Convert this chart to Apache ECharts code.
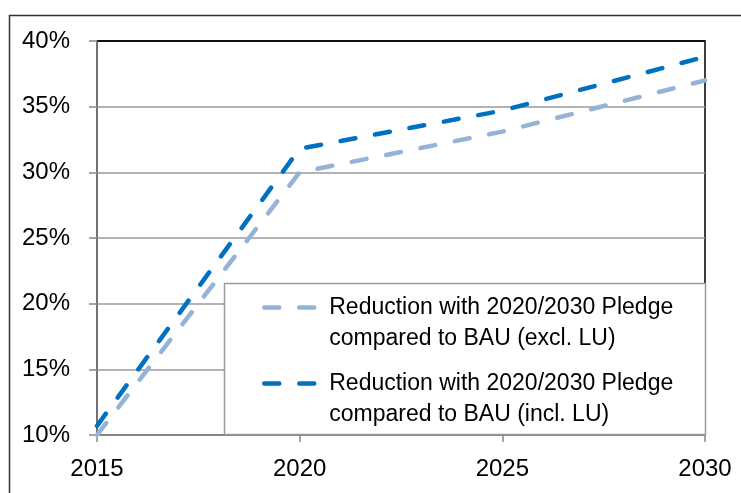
<!DOCTYPE html>
<html>
<head>
<meta charset="utf-8">
<script src="https://cdn.jsdelivr.net/npm/echarts@6/dist/echarts.min.js"></script>
<style>
html,body{margin:0;padding:0;background:#fff;}
#chart{width:741px;height:493px;}
</style>
</head>
<body>
<div id="chart"></div>
<script>
var years = [2015, 2020, 2025, 2030];
var excl = [10, 30, 33.1, 37];
var incl = [10.7, 31.8, 34.7, 38.8];
var seriesNames = [
  'Reduction with 2020/2030 Pledge\ncompared to BAU (excl. LU)',
  'Reduction with 2020/2030 Pledge\ncompared to BAU (incl. LU)'
];
var xTicks = [2015, 2020, 2025, 2030];
var yTicks = [10, 15, 20, 25, 30, 35, 40];

function pairs(xs, ys) { return xs.map(function (x, i) { return [x, ys[i]]; }); }

var font = 'Liberation Sans';
function legendFor(i, top) {
  return {
    orient: 'vertical', left: 262, top: top, padding: 0, z: 6,
    itemWidth: 60, itemHeight: 14,
    itemStyle: { color: 'transparent', borderWidth: 0, opacity: 0 },
    lineStyle: { width: 4.5, type: [15, 20], cap: 'round' },
    textStyle: { fontSize: 23, fontFamily: font, color: '#000', lineHeight: 31 },
    formatter: function (n) { return ' \n' + n; },
    data: [seriesNames[i]]
  };
}
var chart = echarts.init(document.getElementById('chart'));
chart.setOption({
  animation: false,
  backgroundColor: '#fff',
  textStyle: { fontFamily: font },
  grid: { left: 97, right: 36, top: 41, bottom: 58, show: true, borderColor: '#000', borderWidth: 1.5, backgroundColor: 'transparent' },
  graphic: [
    { type: 'rect', z: 0, silent: true, shape: { x: 9.5, y: 15.5, width: 1000, height: 1000 }, style: { fill: 'none', stroke: '#333', lineWidth: 1.5 } },
    { type: 'rect', z: 5, silent: true, shape: { x: 224.5, y: 283.5, width: 481, height: 151 }, style: { fill: '#fff', stroke: '#9a9a9a', lineWidth: 1.5 } }
  ],
  xAxis: {
    type: 'value', min: xTicks[0], max: xTicks[xTicks.length - 1], interval: 5,
    axisLine: { show: true, lineStyle: { color: '#868686', width: 1.5 } },
    axisTick: { show: true, length: 7, lineStyle: { color: '#868686', width: 1.5 } },
    axisLabel: { color: '#000', fontSize: 24, fontFamily: font, margin: 22, formatter: function (v) { return String(v); } },
    splitLine: { show: false }
  },
  yAxis: {
    type: 'value', min: yTicks[0], max: yTicks[yTicks.length - 1], interval: 5,
    axisLine: { show: true, lineStyle: { color: '#868686', width: 1.5 } },
    axisTick: { show: true, length: 8, lineStyle: { color: '#868686', width: 1.5 } },
    axisLabel: { color: '#000', fontSize: 24, fontFamily: font, margin: 27, formatter: '{value}%' },
    splitLine: { show: true, lineStyle: { color: ['#9a9a9a', '#9a9a9a', '#9a9a9a', '#9a9a9a', '#9a9a9a', '#9a9a9a', '#000'], width: 1.5 } }
  },
  legend: [legendFor(0, 261), legendFor(1, 337)],
  series: [
    { name: seriesNames[0], type: 'line', data: pairs(years, excl), symbol: 'none', z: 3,
      lineStyle: { color: '#95B3D7', width: 4.5, type: [15, 20], cap: 'round' }, itemStyle: { color: '#95B3D7' } },
    { name: seriesNames[1], type: 'line', data: pairs(years, incl), symbol: 'none', z: 3,
      lineStyle: { color: '#0070C0', width: 4.5, type: [15, 20], cap: 'round' }, itemStyle: { color: '#0070C0' } }
  ]
});
</script>
</body>
</html>
